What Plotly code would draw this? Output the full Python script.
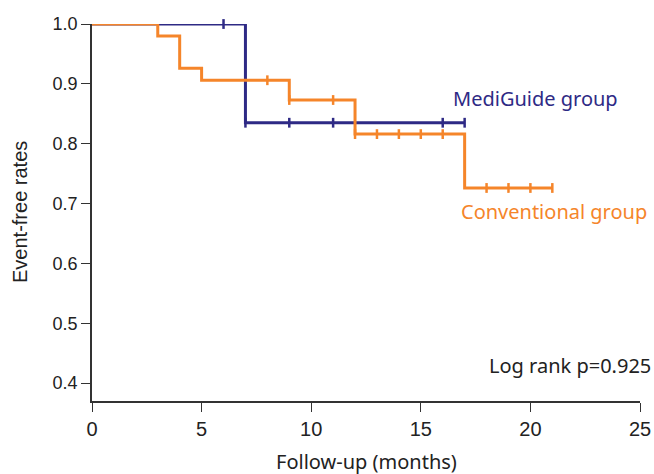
import plotly.graph_objects as go

# Kaplan-Meier step data
medi_time = [0, 7, 17]
medi_surv = [1.0, 0.835, 0.835]
medi_cens_t = [6, 7, 9, 11, 16, 17]
medi_cens_s = [1.0, 0.835, 0.835, 0.835, 0.835, 0.835]

conv_time = [0, 3, 4, 5, 9, 12, 17, 21]
conv_surv = [1.0, 0.98, 0.926, 0.906, 0.873, 0.816, 0.726, 0.726]
conv_cens_t = [8, 9, 11, 12, 13, 14, 15, 16, 18, 19, 20, 21]
conv_cens_s = [0.906, 0.873, 0.873, 0.816, 0.816, 0.816, 0.816, 0.816, 0.726, 0.726, 0.726, 0.726]

x_ticks = [0, 5, 10, 15, 20, 25]
y_ticks = [0.4, 0.5, 0.6, 0.7, 0.8, 0.9, 1.0]

NAVY = "#2E2A85"
ORANGE = "#F5852A"
AXIS = "#333333"

fig = go.Figure()
fig.add_trace(go.Scatter(x=medi_time, y=medi_surv, mode="lines", line=dict(color=NAVY, width=3, shape="hv"),
                         showlegend=False, cliponaxis=False))
fig.add_trace(go.Scatter(x=conv_time, y=conv_surv, mode="lines", line=dict(color=ORANGE, width=3, shape="hv"),
                         showlegend=False, cliponaxis=False))
fig.add_trace(go.Scatter(x=medi_cens_t, y=medi_cens_s, mode="markers",
                         marker=dict(symbol="line-ns", size=7, line=dict(color=NAVY, width=2.5)),
                         showlegend=False, cliponaxis=False))
fig.add_trace(go.Scatter(x=conv_cens_t, y=conv_cens_s, mode="markers",
                         marker=dict(symbol="line-ns", size=7, line=dict(color=ORANGE, width=2.5)),
                         showlegend=False, cliponaxis=False))

ann_font = "'Noto Sans', 'Open Sans', sans-serif"
fig.add_annotation(x=16.4, y=0.875, text="MediGuide group", showarrow=False, xanchor="left", yanchor="middle",
                   font=dict(family=ann_font, size=20, color=NAVY))
fig.add_annotation(x=16.75, y=0.686, text="Conventional group", showarrow=False, xanchor="left", yanchor="middle",
                   font=dict(family=ann_font, size=20, color=ORANGE))
fig.add_annotation(x=25, xshift=13, y=0.43, text="Log rank p=0.925", showarrow=False, xanchor="right",
                   yanchor="middle", font=dict(family=ann_font, size=20, color="#222222"))
# axis titles
fig.add_annotation(xref="paper", yref="paper", x=0.5, y=0.0, yshift=-60, text="Follow-up (months)",
                   showarrow=False, xanchor="center", yanchor="middle",
                   font=dict(family=ann_font, size=20, color="#222222"))
fig.add_annotation(xref="paper", yref="paper", x=0.0, xshift=-72.5, y=0.5, text="Event-free rates",
                   showarrow=False, xanchor="center", yanchor="middle", textangle=-90,
                   font=dict(family="'Liberation Sans', Arial, sans-serif", size=20, color="#222222"))

fig.update_layout(
    width=654, height=474,
    margin=dict(l=92, r=14, t=24, b=73),
    paper_bgcolor="white", plot_bgcolor="white",
    font=dict(family="'Liberation Sans', Arial, sans-serif", color="#222222"),
    xaxis=dict(range=[0, 25], tickvals=x_ticks, ticks="outside", ticklen=9, tickwidth=1.3, tickcolor=AXIS,
               showline=True, linecolor=AXIS, linewidth=1.5, showgrid=False, zeroline=False, automargin=False,
               tickfont=dict(size=20, color="#222222")),
    yaxis=dict(range=[0.37, 1.0], tickvals=y_ticks, tickformat=".1f", ticks="outside", ticklen=9, tickwidth=1.3,
               tickcolor=AXIS, showline=True, linecolor=AXIS, linewidth=1.5, showgrid=False, zeroline=False,
               automargin=False, tickfont=dict(size=18, color="#222222")),
)

fig.write_html("out.html", config={"displayModeBar": False},
               post_script="document.body.style.margin='0';document.body.style.overflow='hidden';")
